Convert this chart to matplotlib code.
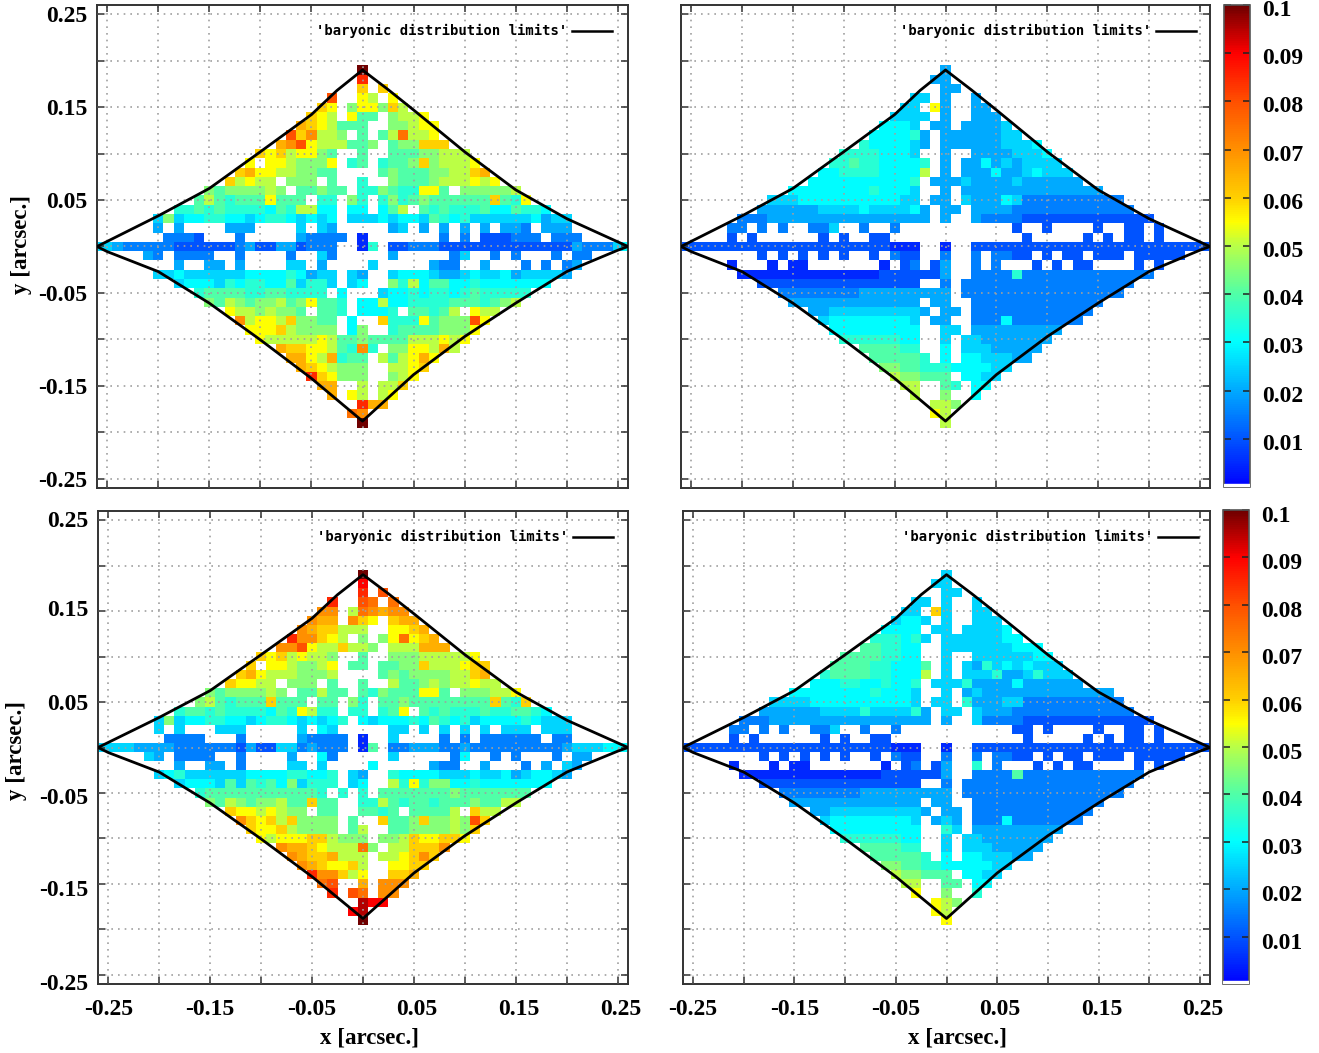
import matplotlib
matplotlib.use("Agg")
import matplotlib.pyplot as plt
import matplotlib.transforms as mtrans
from matplotlib.colors import LinearSegmentedColormap
import numpy as np

W, H = 1319, 1053

# each row: left of x=0 | cell at x=0 | right of x=0, from y=+0.19 down to y=-0.19
# one character per 0.01" cell, see LEVELS, "." is an empty cell
LEVELS = "123456789abcdefghijk"
LEVEL_STEP = 0.005

top_left = [
    "|k|", "|h|", "|c|.c", "g..|b|a.b", "cb.9|b|b9ca", "cba.b|8|8.9aab", "dcba88|8|..99abb",
    "gceaa9.|8|.8afaab", "degbaaa8|8|9.899ccc", "cbcabb98..|8|..88899aaa", "b.bba999b.7|8|.7889c9aaab",
    "cdbbaa9988..|.|.8988899aacd", "cabaa.999.8..|7|..98889aaabab", "989999a9.88988.|7|79877bb8.99999a",
    "8a87888b888.77.9|7|.79789888888c87b", "778787777687aa66.6|6|.68a.8787778668776",
    "595667766567765656.5|5|56566587675555556455", "4.4....444....5.54..|.|..45.4.4.4.4.443.444",
    "3332...3.....43333.|1|.......3.3.222333.333", "554333332222223422442333..|1|7.223332222222222222 4333565",
    "43.3333..3....3..53..|.|..4.....35..3.3...3.33", "4..44.4....55.4...|.|5.....433..4...3.3.34",
    "556555555666676455.5|4|..566654456556455554", "5666576776685775.5|6|..97a6886676666666",
    "7888877887777.6.|.|.566767767877777", "98a9899a89b887.|6|6a667777888789a", "baa9a998.887.|6|667.8878a.baa",
    "eabbac9988.6|.|.c777b8999gb", "bbbca9999.6|9|..78888999b", "baaaaaba88|9|8888aaabab", "dccbba87|e|7.99bbada",
    "ddbad78|8|.a8abdb", "dcba99|9|..aabc", "hcb99|9|..9ab", "dd..|a|.aac", "d.b|a|.ab", "|h|dd", "f|e|", "|k|",
]

top_right = [
    "|4|", "4|4|", "|4|4", "55.|4|..4", "55.b|4|..44", "5555.|4|..444", "6665.4|4|.44445",
    "666674.|4|4444455", "7666654.|4|444445556", "77776665..|4|..44445556", "7787766667.|4|.4464545555",
    "6677776666a.|4|.44464456555", "66666666667.4|4|4544445444444", "6666666676665..|4|.44444444444444",
    "555666666666655.4|4|.5444653333333333", "44444455556555564.|4|4.4444333333333333",
    "3334444444444444444.|4|..433332222222222222", "33.3.3..335..3..3....|.|......2..2....2..22.2",
    "2.2......2.2..22.....|.|.......2.....2.2.22.2", "222222222222222222222111..|1|..222222222222222222222222",
    "2.2.2.2.2..2.322..|3|..3.3322.2.22.222.22222", "1...1.11.......1.23.2|4|..3.3...2.2.22....2.2",
    "11111111111111222222|4|..3333733333333 33333", "2222222222222222..|3|.33333333333333333",
    "3333333344444444|4|.3333333333333333", "4444444444444.4|4|..3333333333333", "445555555554.|4|4.333333333333",
    "5666666665.4|4|..33363333333", "666666666..|5|5.444444444", "77777766..|5|.554444444", "888877..|6|.55544444",
    "888887.|6|.6655544", "998877|7|666655", "a9988|8|.6655", "aa..|8|7.66", "a..|9|..6", "a|a|9", "b|a|", "|a|",
]

bottom_left = [
    "|k|", "|i|", "|h|.g", "h..|g|f.f", "ee.a|f|edee", "edd.e|c|b.cdd", "edccaa|a|..bbcd", "heecba.|9|.9bfbcd",
    "eegbaaca|a|9.aaaddd", "cbcabaa9..|8|..999aaaaab", "c.bba99ab.8|8|.8899caaabcc", "cdbaaa999a..|.|.8989999aacd",
    "cbbaa.999.8..|8|..a889a9aabaa", "989999a9.88a88.|8|79888bb8.999aab", "9a87888c888.88.9|7|.88988888888c87c",
    "788787777687ba77.7|7|.78b.8787778778876", "5956677665677656567.|6|56667687675666676555",
    "5.5...555.....5.65..|.|..55.5.5.5.5.555.555", "3333...3.....43333.|1|..5....3.3.333333.33",
    "5555444433333324225534333.|1|8.33444334333333333 4555666", "54.3333..3....4..63..|.|..5.....36..3.3...3.44",
    "4..44.3....55.5...|.|6.....433..4...3.4.54", "567555555666677667.5|4|..766665556556456654",
    "5666585878695777.5|6|..a7b7996676666666", "7888888888887.7.|7|.888888898888888", "98a9899a88c88..|7|7a87887888988aa",
    "cbbaba99.88..|8|878.8888a.caa", "ecbcac9999.8|.|.c889c99a9gc", "cbbca9999.8|a|..889999a9c", "babbbcca99|9|.99acbbccb",
    "eddcbaaa|f|9.aaccce", "edccdaa|a|.aabcec", "edcbbc|a|..bbcc", "heeca|b|..ccd", "fg..|d|.eee", "h.g|f|.ee", "|j|ii", "i|j|", "|k|",
]

bottom_right = [
    "|5|", "5|5|", ".|5|5", "55.|5|..5", "55.c|5|..55", "5665.|5|..555", "6666.5|5|.55556", "777675.|5|5555566",
    "887766..|5|555555666", "88887766..|5|..55555566", "8888776668.|5|.5475656555", "7888877666a.|5|.55574457555",
    "66677667667.5|5|5744446444444", "6666666676665..|5|.454444444444444", "555566666666665.5|5|.7444553333333333",
    "44444455557555574.|5|5.5444333333333333", "3334444444444444444.|4|..533332222222222222",
    "33.3.3..335..3..3....|.|......22.2....2..22.2", "2.2......2.2..22.....|.|.......2.....2.2.22.2",
    "222222222222222222222111..|1|..222222222222222222222222", "2.2.2.2.2..2.322..|3|..3.3322.2.22.222.22222",
    "1...1.11.......1.23.2|4|..7.3...2.2.22....2.2", "11111111111111222222|4|..33338333333333333",
    "2222222222222222..|3|.33333333333333333", "3333333344444444|4|.3333333333333333", "4444444444444.4|4|..3333333333333",
    "445555555554.|4|4.333333333333", "5666666665.4|5|4.33363333333", "666666666..|7|5.444444444", "77777766..|5|.554444444",
    "888877..|5|.55544444", "888887.|6|.6655544", "998877|6|666655", "a9988|8|.6655", "aa..|8|8.66", "b..|9|..7", "b|a|9", "b|a|", "|b|",
]

# limits of the baryonic distribution, arcsec
limit_x = [-0.26, -0.25, -0.20, -0.15, -0.10, -0.05, -0.025, 0.0, 0.025, 0.05, 0.10, 0.15, 0.20, 0.25, 0.26]
limit_up = [0.0, 0.0055, 0.033, 0.0625, 0.102, 0.142, 0.168, 0.19, 0.169, 0.147, 0.102, 0.061, 0.03, 0.005, 0.0]
limit_low = [0.0, -0.0055, -0.027, -0.061, -0.1005, -0.142, -0.165, -0.188, -0.163, -0.138, -0.097, -0.061, -0.027, -0.004, 0.0]

x_ticks = [-0.25, -0.20, -0.15, -0.10, -0.05, 0.0, 0.05, 0.10, 0.15, 0.20, 0.25]
tick_labels = ["-0.25", "", "-0.15", "", "-0.05", "", "0.05", "", "0.15", "", "0.25"]
cb_ticks = [0.01, 0.02, 0.03, 0.04, 0.05, 0.06, 0.07, 0.08, 0.09, 0.1]
cb_labels = ["0.01", "0.02", "0.03", "0.04", "0.05", "0.06", "0.07", "0.08", "0.09", "0.1"]
legend_text = "'baryonic distribution limits'"

palette = [(0.0, "#0000ff"), (0.1, "#0055ff"), (0.2, "#00aaff"), (0.3, "#00ffff"), (0.4, "#50ffa8"),
           (0.5, "#b8ff48"), (0.55, "#ffff00"), (0.6, "#ffd000"), (0.7, "#ff9000"), (0.8, "#ff5000"),
           (0.9, "#ff0000"), (1.0, "#700000")]
cmap = LinearSegmentedColormap.from_list("flux", palette, N=256)
cmap.set_bad("white")

plt.rcParams["font.family"] = ["Liberation Serif", "DejaVu Serif"]
plt.rcParams["font.weight"] = "bold"
plt.rcParams["font.size"] = 17


def parse(rows):
    grid = np.full((39, 53), np.nan)
    for i, row in enumerate(rows):
        left, mid, right = row.replace(" ", "").split("|")
        line = left.rjust(26, ".")[-26:] + mid + right.ljust(26, ".")[:26]
        for j, ch in enumerate(line):
            if ch != ".":
                grid[i, j] = (LEVELS.index(ch) + 1) * LEVEL_STEP
    return np.ma.masked_invalid(grid)


def px_axes(fig, x0, y0, x1, y1):
    return fig.add_axes([x0 / W, 1 - y1 / H, (x1 - x0) / W, (y1 - y0) / H])


def nudge(label, dx, dy):
    # move a tick label by some pixels, dy counts downwards
    label.set_transform(label.get_transform() + mtrans.Affine2D().translate(dx, -dy))


fig = plt.figure(figsize=(W / 100, H / 100), dpi=100)
cols = np.arange(-26, 27) * 0.01
lines = np.arange(19, -20, -1) * 0.01

panels = [
    (top_left, (97, 5, 628, 488), True, False, 31, [0, 0, 0, 0, 0, 0]),
    (top_right, (681, 5, 1210, 488), False, False, 31, [0, 0, 0, 0, 0, 0]),
    (bottom_left, (98, 511, 628, 984), True, True, 537, [7, 4, 3, 0, -3, -1]),
    (bottom_right, (683, 511, 1210, 984), False, True, 537, [0, 0, 0, 0, 0, 0]),
]

for rows, box, show_y, show_x, legend_y, y_shift in panels:
    ax = px_axes(fig, *box)
    mesh = ax.pcolormesh(cols, lines, parse(rows), cmap=cmap, vmin=0, vmax=0.1, shading="nearest", zorder=1)
    ax.plot(limit_x, limit_up, color="black", lw=2, zorder=3)
    ax.plot(limit_x, limit_low, color="black", lw=2, zorder=3)
    ax.set_xlim(-0.26, 0.26)
    ax.set_ylim(-0.26, 0.26)
    ax.set_xticks(x_ticks)
    ax.set_yticks(x_ticks)
    ax.set_xticklabels(tick_labels if show_x else [""] * 11)
    ax.set_yticklabels(tick_labels if show_y else [""] * 11)
    ax.tick_params(direction="in", length=5, width=1.1, top=True, right=True, color="#333333")
    ax.tick_params(axis="x", pad=11)
    ax.tick_params(axis="y", pad=7)
    ax.grid(True, linestyle=(0, (1, 3)), color="#a0a0a0", lw=1.2, zorder=2)
    ax.set_axisbelow(False)
    for s in ax.spines.values():
        s.set_linewidth(1.4)
        s.set_color("#333333")

    if show_x:
        for lab, tk in zip(ax.get_xticklabels(), x_ticks):
            if tk > 0:
                nudge(lab, 3, 0)
    for lab, dy in zip(ax.get_yticklabels()[::2], y_shift):
        nudge(lab, 0, dy)

    # key drawn by hand like gnuplot's
    fig.text((box[0] + 219) / W, 1 - legend_y / H, legend_text, family="DejaVu Sans Mono", fontsize=10, weight="bold",
             ha="left", va="center")
    fig.add_artist(plt.Line2D([(box[0] + 475) / W, (box[0] + 515) / W], [1 - legend_y / H, 1 - legend_y / H], color="black", lw=1.8))

# colour bars
for box, dy in (((1224, 5, 1250, 487), 3), ((1223, 510, 1249, 984), 4)):
    cax = px_axes(fig, *box)
    cb = fig.colorbar(mesh, cax=cax, ticks=cb_ticks)
    cb.ax.set_yticklabels(cb_labels)
    cb.ax.tick_params(direction="in", length=5, width=1.1, left=True, right=True, color="#222222", pad=9)
    cb.outline.set_linewidth(1.2)
    cb.outline.set_edgecolor("#555555")
    cb.ax.axhspan(0, 0.0006, color="white", zorder=3)
    for lab in cb.ax.get_yticklabels():
        nudge(lab, 0, dy)

fig.text(370 / W, 1 - 1038 / H, "x [arcsec.]", ha="center", va="center", fontsize=16.5)
fig.text(958 / W, 1 - 1038 / H, "x [arcsec.]", ha="center", va="center", fontsize=16.5)
fig.text(22 / W, 1 - 245 / H, "y [arcsec.]", ha="center", va="center", rotation=90, fontsize=16.5)
fig.text(17 / W, 1 - 750 / H, "y [arcsec.]", ha="center", va="center", rotation=90, fontsize=16.5)

fig.savefig("out.png", dpi=100)
